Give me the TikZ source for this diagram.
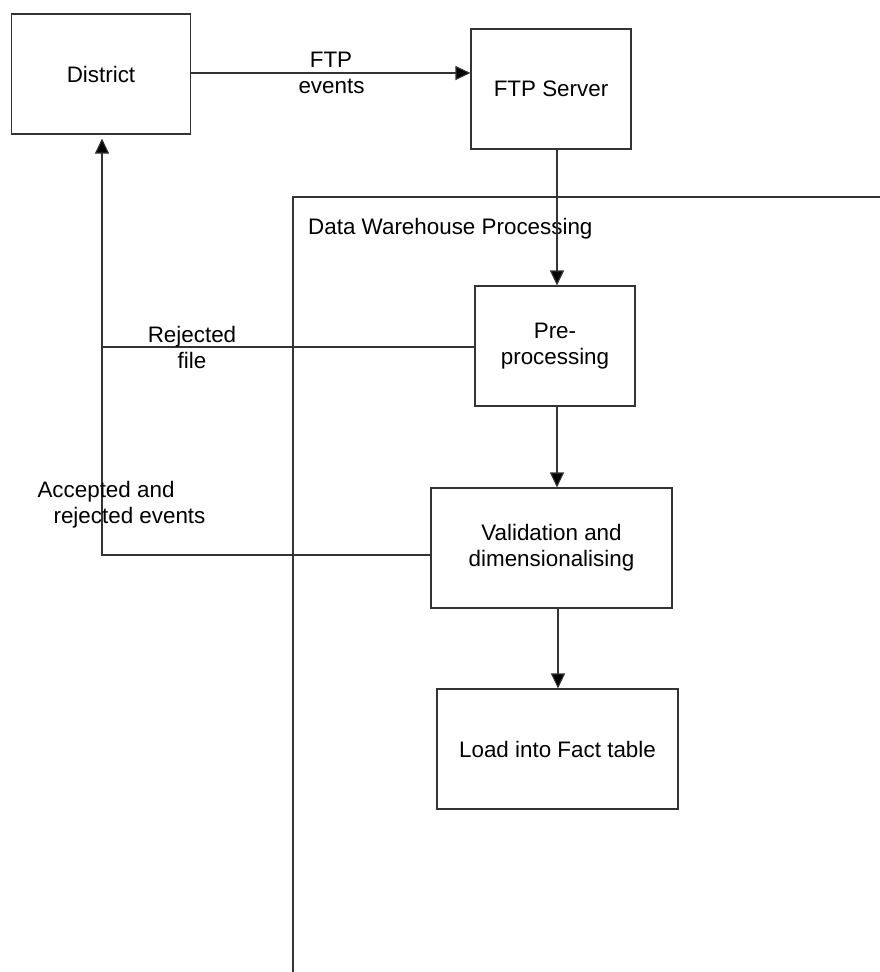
\documentclass[tikz,border=0pt]{standalone}
\usepackage{fontspec}
\setmainfont{Liberation Sans}
\usetikzlibrary{arrows.meta}
\tikzset{
  box/.style={draw=black!80, line width=1.1pt, inner sep=0pt, align=center,
    font=\fontsize{22.4}{26}\selectfont},
  conn/.style={draw=black!80, line width=1.1pt},
  arr/.style={conn, -{Triangle[length=15pt,width=14pt,fill=black]}},
  lbl/.style={inner sep=0pt, anchor=base, font=\fontsize{22.4}{26}\selectfont}
}
\begin{document}
\begin{tikzpicture}[x=1pt,y=-1pt]
\useasboundingbox (0,0) rectangle (880,972);
% frame
\coordinate (fr1) at (880,197);
\coordinate (fr2) at (293,197);
\coordinate (fr3) at (293,972);
\draw[conn] (fr1) -- (fr2) -- (fr3);
\node[lbl, anchor=base west] (dwp) at (308,234) {Data Warehouse Processing};
% boxes
\node[box, minimum width=179pt, minimum height=120pt] (district) at (101,74) {District};
\node[box, minimum width=160pt, minimum height=120pt] (ftp) at (551,89) {FTP Server};
\node[box, minimum width=160pt, minimum height=120pt] (pre) at (555,346) {Pre-\\processing};
\node[box, minimum width=241pt, minimum height=120pt] (val) at (551.5,548) {Validation and\\dimensionalising};
\node[box, minimum width=241pt, minimum height=120pt] (load) at (557.5,749) {Load into Fact table};
% helper coordinates
\coordinate (c1) at (557,0);
\coordinate (c2) at (558,0);
\coordinate (rej) at (102,347);
\coordinate (acc) at (102,555);
% connectors
\draw[arr] (district.east |- 0,73) -- (ftp.west |- 0,73);
\draw[arr] (ftp.south -| c1) -- (pre.north -| c1);
\draw[arr] (pre.south -| c1) -- (val.north -| c1);
\draw[arr] (val.south -| c2) -- (load.north -| c2);
\draw[conn] (pre.west |- rej) -- (rej);
\draw[arr, shorten >=4pt] (val.west |- acc) -- (acc) -- (district.south -| acc);
% labels
\node[lbl] (l1) at (331,67) {FTP};
\node[lbl] (l2) at (331.5,93) {events};
\node[lbl] (l3) at (192,342) {Rejected};
\node[lbl] (l4) at (192,368) {file};
\node[lbl] (l5) at (106,497) {Accepted and};
\node[lbl] (l6) at (129.5,523) {rejected events};
\end{tikzpicture}
\end{document}
